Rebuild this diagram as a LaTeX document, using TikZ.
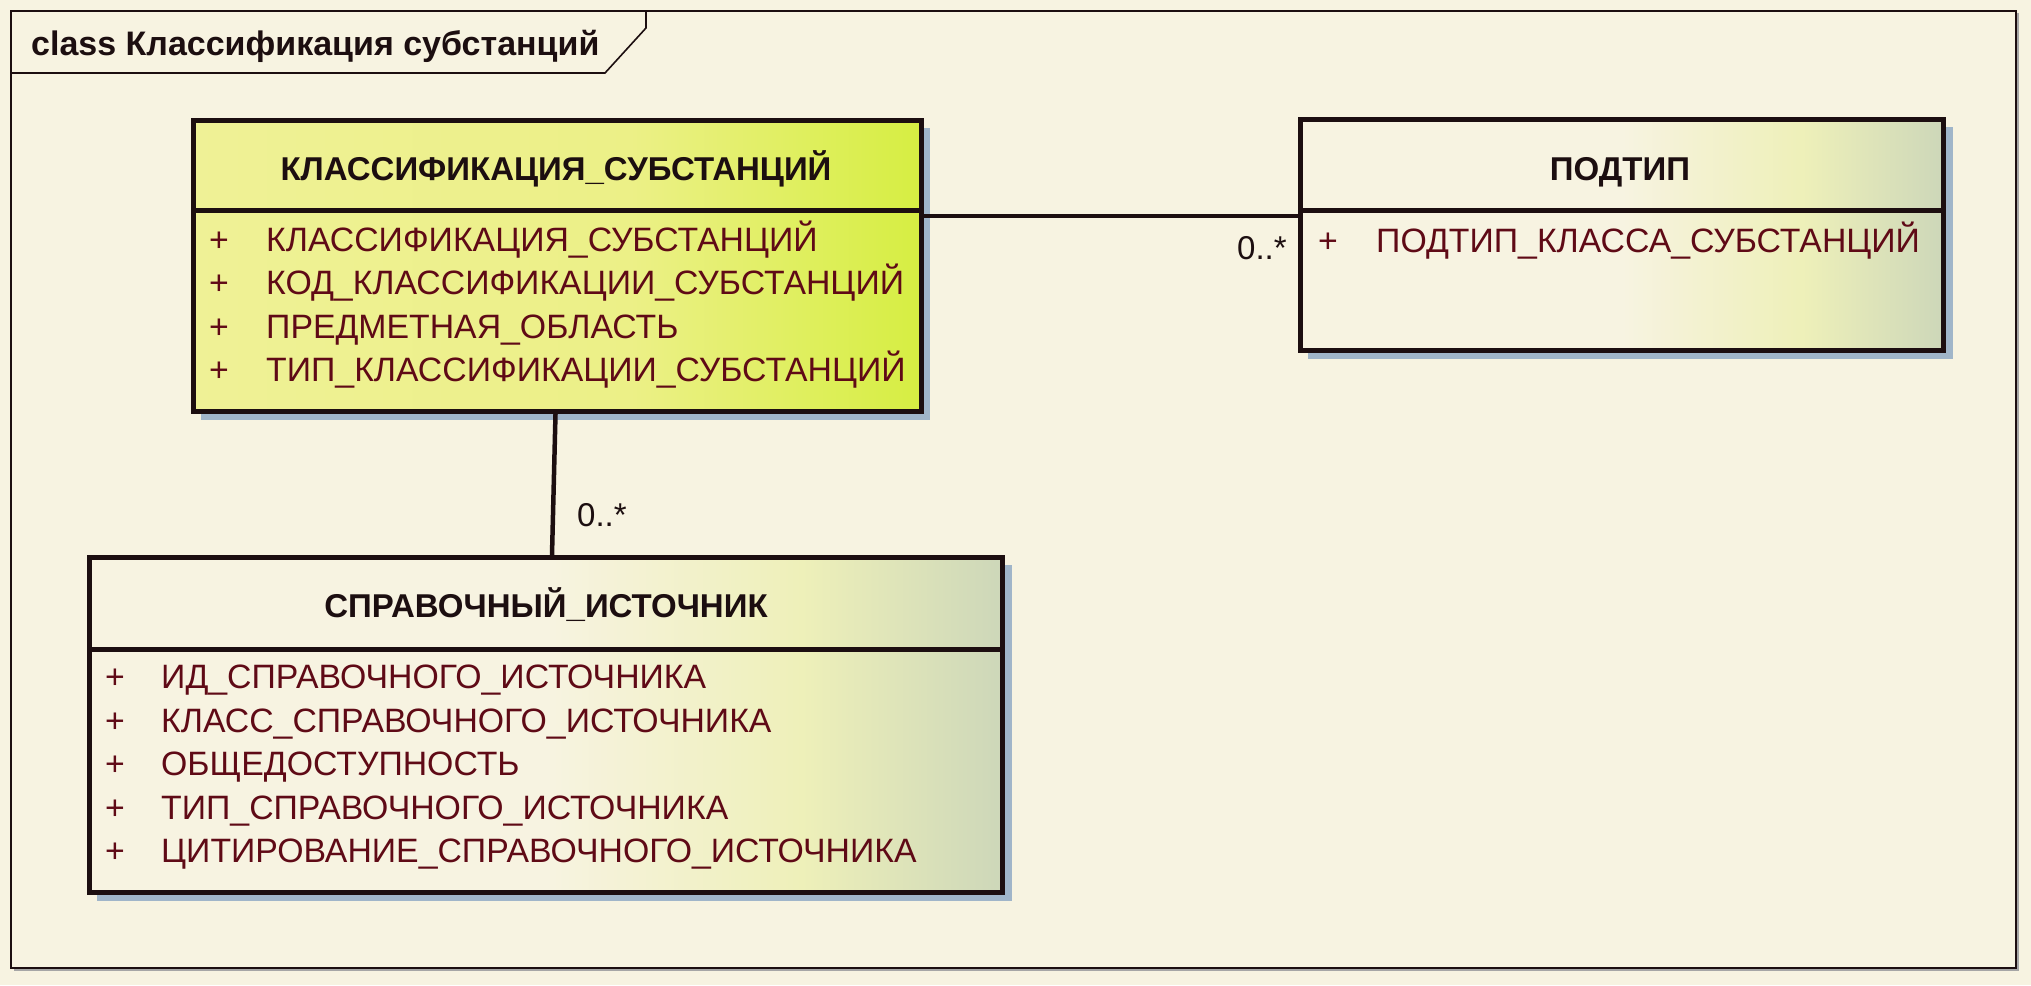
\documentclass[tikz,border=0pt]{standalone}
\usepackage{fontspec}
\setmainfont{Liberation Sans}
\definecolor{bg}{RGB}{247,243,225}
\definecolor{shadowc}{RGB}{160,181,201}
\definecolor{attrc}{RGB}{95,10,22}
\definecolor{inkc}{RGB}{28,14,16}
\definecolor{cream}{RGB}{247,243,225}
\definecolor{paleyel}{RGB}{238,240,185}
\definecolor{edgegrn}{RGB}{205,215,185}
\definecolor{limeL}{RGB}{239,241,150}
\definecolor{limeM}{RGB}{236,240,135}
\definecolor{limeR}{RGB}{214,238,66}
\pgfdeclarehorizontalshading{creamsh}{100bp}{color(0bp)=(cream); color(25bp)=(cream); color(50bp)=(cream); color(64bp)=(paleyel); color(75bp)=(edgegrn); color(100bp)=(edgegrn)}
\pgfdeclarehorizontalshading{limesh}{100bp}{color(0bp)=(limeL); color(25bp)=(limeL); color(55bp)=(limeM); color(75bp)=(limeR); color(100bp)=(limeR)}
\tikzset{
  classbox/.style={draw=inkc, line width=5pt, inner sep=0pt, anchor=north west},
  hdrtext/.style={font=\fontsize{33}{36}\selectfont\bfseries, text=inkc, anchor=base, inner sep=0pt},
  attrtext/.style={font=\fontsize{33.8}{36}\selectfont, text=attrc, anchor=base west, inner sep=0pt},
  multlabel/.style={font=\fontsize{33}{36}\selectfont, text=inkc, anchor=base west, inner sep=0pt},
  assoc/.style={draw=inkc, line width=4.5pt},
  shadowbox/.style={fill=shadowc},
}
\begin{document}
\begin{tikzpicture}[x=1pt,y=-1pt]
\useasboundingbox (0,0) rectangle (2031,985);
\fill[bg] (0,0) rectangle (2031,985);
% frame
\draw[gray!70, line width=2pt] (14,970) -- (2018,970) -- (2018,13);
\draw[inkc, line width=1.6pt] (11,11) rectangle (2016,968);
\draw[inkc, line width=1.6pt] (11,73) -- (605,73) -- (646,28) -- (646,11);
\node[font=\fontsize{34}{36}\selectfont\bfseries, text=inkc, anchor=base west, inner sep=0pt] (title) at (31,55) {class Классификация субстанций};
% shadows
\fill[shadowbox] (201,128) rectangle (930,420);
\fill[shadowbox] (1308,127) rectangle (1953,359);
\fill[shadowbox] (97,565) rectangle (1012,901);
% class 1
\node[classbox, shading=limesh, minimum width=728pt, minimum height=90pt] (c1h) at (191,118) {};
\node[classbox, shading=limesh, minimum width=728pt, minimum height=201pt] (c1b) at (191,208) {};
\node[hdrtext] (c1t) at (556,180) {КЛАССИФИКАЦИЯ\_СУБСТАНЦИЙ};
\node[attrtext] (c1p1) at (209,251) {+};
\node[attrtext] (c1a1) at (266,251) {КЛАССИФИКАЦИЯ\_СУБСТАНЦИЙ};
\node[attrtext] (c1p2) at (209,294) {+};
\node[attrtext] (c1a2) at (266,294) {КОД\_КЛАССИФИКАЦИИ\_СУБСТАНЦИЙ};
\node[attrtext] (c1p3) at (209,338) {+};
\node[attrtext] (c1a3) at (266,338) {ПРЕДМЕТНАЯ\_ОБЛАСТЬ};
\node[attrtext] (c1p4) at (209,381) {+};
\node[attrtext] (c1a4) at (266,381) {ТИП\_КЛАССИФИКАЦИИ\_СУБСТАНЦИЙ};
% class 2
\node[classbox, shading=creamsh, minimum width=643pt, minimum height=91pt] (c2h) at (1298,117) {};
\node[classbox, shading=creamsh, minimum width=643pt, minimum height=140pt] (c2b) at (1298,208) {};
\node[hdrtext] (c2t) at (1620,180) {ПОДТИП};
\node[attrtext] (c2p1) at (1318,252) {+};
\node[attrtext] (c2a1) at (1376,252) {ПОДТИП\_КЛАССА\_СУБСТАНЦИЙ};
% class 3
\node[classbox, shading=creamsh, minimum width=913pt, minimum height=92pt] (c3h) at (87,555) {};
\node[classbox, shading=creamsh, minimum width=913pt, minimum height=243pt] (c3b) at (87,647) {};
\node[hdrtext] (c3t) at (546,617) {СПРАВОЧНЫЙ\_ИСТОЧНИК};
\node[attrtext] (c3p1) at (105,688) {+};
\node[attrtext] (c3a1) at (161,688) {ИД\_СПРАВОЧНОГО\_ИСТОЧНИКА};
\node[attrtext] (c3p2) at (105,732) {+};
\node[attrtext] (c3a2) at (161,732) {КЛАСС\_СПРАВОЧНОГО\_ИСТОЧНИКА};
\node[attrtext] (c3p3) at (105,775) {+};
\node[attrtext] (c3a3) at (161,775) {ОБЩЕДОСТУПНОСТЬ};
\node[attrtext] (c3p4) at (105,819) {+};
\node[attrtext] (c3a4) at (161,819) {ТИП\_СПРАВОЧНОГО\_ИСТОЧНИКА};
\node[attrtext] (c3p5) at (105,862) {+};
\node[attrtext] (c3a5) at (161,862) {ЦИТИРОВАНИЕ\_СПРАВОЧНОГО\_ИСТОЧНИКА};
% associations
\draw[assoc] ([yshift=-3pt]c1h.south east) -- ([yshift=-3pt]c2h.south west);
\draw[assoc] ([xshift=-2pt]c1b.south) -- ([xshift=6pt]c3h.north);
\node[multlabel] (m1) at (1237,259) {0..*};
\node[multlabel] (m2) at (577,526) {0..*};
\end{tikzpicture}
\end{document}
